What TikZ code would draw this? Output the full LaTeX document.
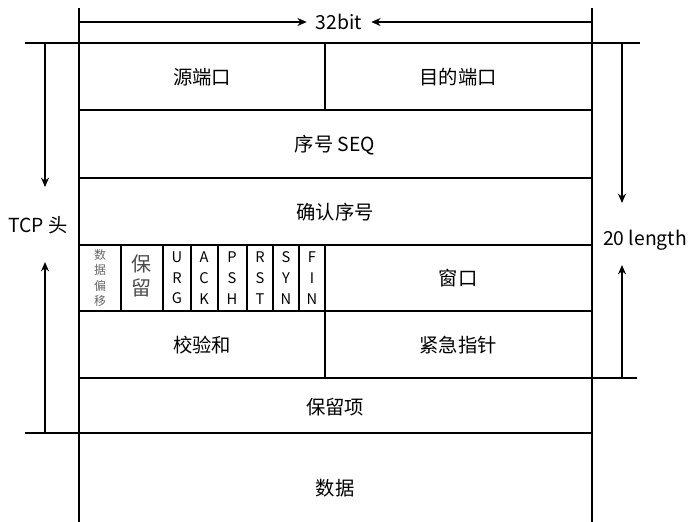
\documentclass[tikz,border=0pt]{standalone}
\usepackage{fontspec}
\setmainfont{Noto Sans CJK SC}
\usetikzlibrary{arrows.meta}
\begin{document}
\begin{tikzpicture}[x=0.75pt,y=-0.75pt,line width=1.2pt,
  lbl/.style={font=\fontsize{14.5}{16}\selectfont},
  flg/.style={font=\fontsize{11}{15.5}\selectfont,align=center,inner sep=0pt},
  arr/.style={-{Stealth[length=7pt,width=6pt]}}]
\useasboundingbox (0,0) rectangle (694,522);
% frame lines
\draw (79,8) -- (79,522);
\draw (592,8) -- (592,522);
\draw (25,43) -- (640,43);
\foreach \y in {110,178,245,311}{\draw (79,\y) -- (592,\y);}
\draw (79,378) -- (637,378);
\draw (25,433) -- (592,433);
\draw (325,43) -- (325,110);
\draw (325,245) -- (325,378);
\foreach \x in {121,163,191,218,247,273,299}{\draw (\x,245) -- (\x,311);}
% texts
\node[lbl] (sp) at (202,77) {源端口};
\node[lbl] (dp) at (458,77) {目的端口};
\node[lbl] (seq) at (335,145) {序号 SEQ};
\node[lbl] (ack) at (335,212) {确认序号};
\node[flg,font=\fontsize{9}{11.5}\selectfont,text=black!60] (off) at (100,278) {数\\据\\偏\\移};
\node[flg,font=\fontsize{15}{18}\selectfont,text=black!70] (res) at (142,276) {保\\留};
\node[flg] (u) at (177,278) {U\\R\\G};
\node[flg] (a) at (204,278) {A\\C\\K};
\node[flg] (p) at (232,278) {P\\S\\H};
\node[flg] (r) at (260,278) {R\\S\\T};
\node[flg] (s) at (286,278) {S\\Y\\N};
\node[flg] (f) at (312,278) {F\\I\\N};
\node[lbl] (win) at (458,278) {窗口};
\node[lbl] (chk) at (202,345) {校验和};
\node[lbl] (urg) at (458,345) {紧急指针};
\node[lbl] (opt) at (335,407) {保留项};
\node[lbl] (dat) at (335,488) {数据};
% dimension labels
\node[lbl] (bits) at (339,22) {32bit};
\coordinate (tl) at (79,22); \coordinate (tr) at (592,22);
\draw[arr] (tl) -- ([xshift=-3pt]bits.west);
\draw[arr] (tr) -- ([xshift=3pt]bits.east);
\node[lbl] (tcp) at (38,225) {TCP 头};
\coordinate (l1) at (45,43); \coordinate (l2) at (45,433);
\draw[arr] (l1) -- (45,187);
\draw[arr] (l2) -- (45,262);
\node[lbl] (len) at (645,240) {20 length};
\coordinate (r1) at (622,43); \coordinate (r2) at (622,378);
\draw[arr] (r1) -- (622,203);
\draw[arr] (r2) -- (622,265);
\end{tikzpicture}
\end{document}
